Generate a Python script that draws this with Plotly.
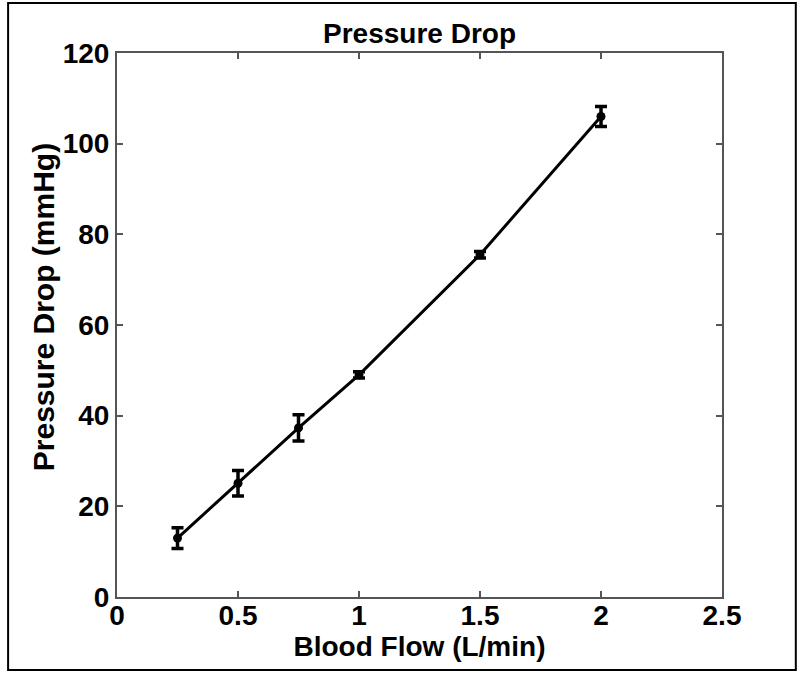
import plotly.graph_objects as go

# data
blood_flow = [0.25, 0.5, 0.75, 1.0, 1.5, 2.0]
pressure_drop = [13.0, 25.1, 37.3, 49.0, 75.5, 106.0]
pressure_err = [2.3, 2.8, 2.9, 0.7, 0.7, 2.2]

x_ticks = [0, 0.5, 1, 1.5, 2, 2.5]
x_tick_text = ["0", "0.5", "1", "1.5", "2", "2.5"]
y_ticks = [0, 20, 40, 60, 80, 100, 120]

font_family = "Liberation Sans, Arial, sans-serif"
axis_color = "#555555"

fig = go.Figure(
    go.Scatter(
        x=blood_flow,
        y=pressure_drop,
        mode="lines+markers",
        line=dict(color="black", width=3),
        marker=dict(color="black", size=9),
        error_y=dict(
            type="data",
            array=pressure_err,
            color="black",
            thickness=3.5,
            width=6,
        ),
        showlegend=False,
    )
)

axis_common = dict(
    showgrid=False,
    zeroline=False,
    showline=True,
    linecolor=axis_color,
    linewidth=2,
    mirror="ticks",
    ticks="inside",
    ticklen=6,
    tickwidth=2,
    tickcolor=axis_color,
    tickfont=dict(family=font_family, size=28, color="black", weight="bold"),
)

fig.update_xaxes(
    range=[0, 2.5],
    tickvals=x_ticks,
    ticktext=x_tick_text,
    ticklabelstandoff=-8,
    title=dict(
        text="Blood Flow (L/min)",
        font=dict(family=font_family, size=28, color="black", weight="bold"),
        standoff=0,
    ),
    **axis_common,
)
fig.update_yaxes(range=[0, 120], tickvals=y_ticks, **axis_common)

fig.update_layout(
    width=800,
    height=677,
    margin=dict(l=117, r=78, t=53, b=80),
    paper_bgcolor="white",
    plot_bgcolor="white",
    title=dict(
        text="Pressure Drop",
        x=0.5,
        xref="paper",
        xanchor="center",
        y=1.0,
        yref="paper",
        yanchor="bottom",
        pad=dict(b=10),
        font=dict(family=font_family, size=28, color="black", weight="bold"),
    ),
    # y title sits a little above the middle of the axis in the original
    annotations=[
        dict(
            text="Pressure Drop (mmHg)",
            xref="paper",
            yref="paper",
            x=-0.122,
            y=0.533,
            xanchor="center",
            yanchor="middle",
            textangle=-90,
            showarrow=False,
            font=dict(family=font_family, size=30, color="black", weight="bold"),
        )
    ],
    shapes=[
        dict(
            type="rect",
            xref="paper",
            yref="paper",
            x0=-0.180,
            x1=1.122,
            y0=-0.134,
            y1=1.092,
            line=dict(color="black", width=2),
            layer="below",
        )
    ],
)

# drop the page's default body margin so the figure sits at the window's corner
fig.write_html(
    "out.html",
    config={"displayModeBar": False},
    post_script="document.body.style.margin = '0px';",
)
